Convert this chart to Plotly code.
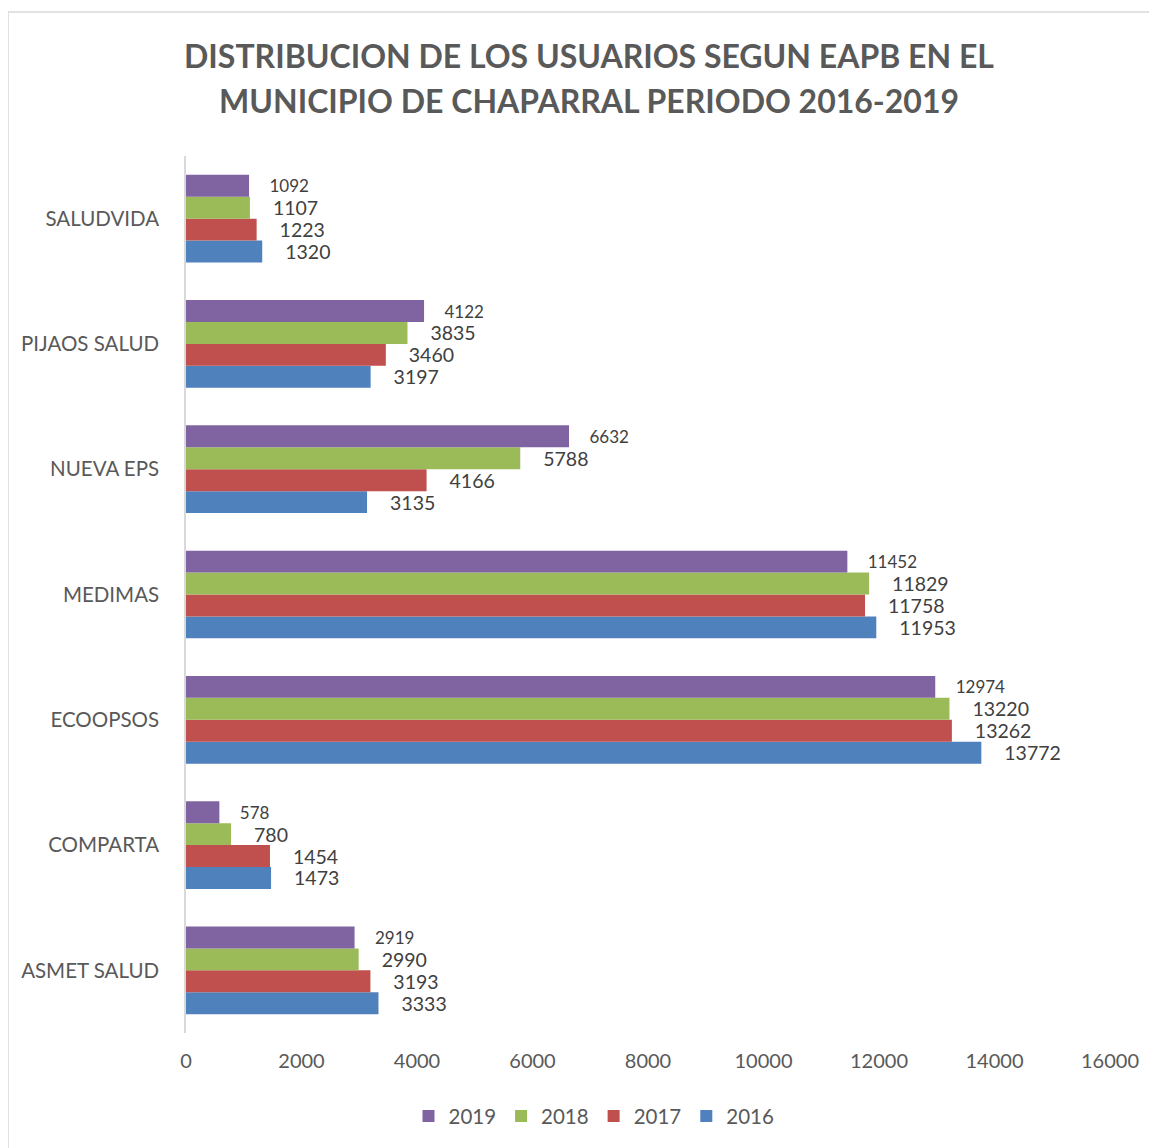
import plotly.graph_objects as go

categories = ["ASMET SALUD", "COMPARTA", "ECOOPSOS", "MEDIMAS", "NUEVA EPS", "PIJAOS SALUD", "SALUDVIDA"]
years = ["2016", "2017", "2018", "2019"]
v2016 = [3333, 1473, 13772, 11953, 3135, 3197, 1320]
v2017 = [3193, 1454, 13262, 11758, 4166, 3460, 1223]
v2018 = [2990, 780, 13220, 11829, 5788, 3835, 1107]
v2019 = [2919, 578, 12974, 11452, 6632, 4122, 1092]
series = [v2016, v2017, v2018, v2019]
colors = ["#4F81BD", "#C0504D", "#9BBB59", "#8064A2"]
label_sizes = [19.5, 19.5, 19.5, 17]
x_ticks = [0, 2000, 4000, 6000, 8000, 10000, 12000, 14000, 16000]
title_lines = ["DISTRIBUCION DE LOS USUARIOS SEGUN EAPB EN EL",
               "MUNICIPIO DE CHAPARRAL PERIODO 2016-2019"]

FONT = "Lato"
W, H = 1157, 1148
L, R, T, B = 178, 55, 148, 123
PW, PH = W - L - R, H - T - B

fig = go.Figure()
for yr, vals, col, fs in zip(years, series, colors, label_sizes):
    fig.add_trace(go.Bar(
        y=categories, x=vals, name=yr, orientation="h",
        marker=dict(color=col, line=dict(width=0)),
        text=[str(v) for v in vals], texttemplate="    %{text}", textposition="outside",
        textfont=dict(size=fs, color="#404040", family=FONT),
        constraintext="none",
        cliponaxis=False,
    ))

annotations = []
for i, line in enumerate(title_lines):
    fy = 47 + 45 * i
    annotations.append(dict(
        text="<b>" + line + "</b>", xref="paper", yref="paper",
        x=(581 - L) / PW, y=(H - B - fy) / PH, xanchor="center", yanchor="middle",
        showarrow=False, font=dict(family=FONT, size=32, color="#595959"),
    ))

fig.update_layout(
    width=W, height=H,
    paper_bgcolor="white", plot_bgcolor="white",
    barmode="group", bargap=0.3, bargroupgap=0,
    margin=dict(l=L, r=R, t=T, b=B),
    annotations=annotations,
    font=dict(family=FONT, color="#595959", size=20),
    legend=dict(orientation="h", x=(586 - L) / PW, xanchor="center", y=-0.072, yanchor="top",
                traceorder="reversed", font=dict(size=20.5, color="#595959"),
                itemwidth=30),
    xaxis=dict(range=[0, 16000], tickvals=x_ticks, ticktext=[str(t) for t in x_ticks],
               showgrid=False, zeroline=False, ticklabelstandoff=14,
               showline=False, tickfont=dict(size=20, color="#595959"), ticks=""),
    yaxis=dict(showgrid=False, zeroline=False, showline=True, linecolor="#D9D9D9",
               linewidth=1.5, ticks="", ticklabelstandoff=21,
               tickfont=dict(size=20.5, color="#595959")),
    shapes=[dict(type="rect", xref="paper", yref="paper",
                 x0=(0 - L) / PW, x1=(1170 - L) / PW,
                 y0=(H - B - 1160) / PH, y1=(H - B - 4) / PH,
                 line=dict(color="#D9D9D9", width=1.5), fillcolor="rgba(0,0,0,0)", layer="below")],
)

fig.write_html("out.html")
